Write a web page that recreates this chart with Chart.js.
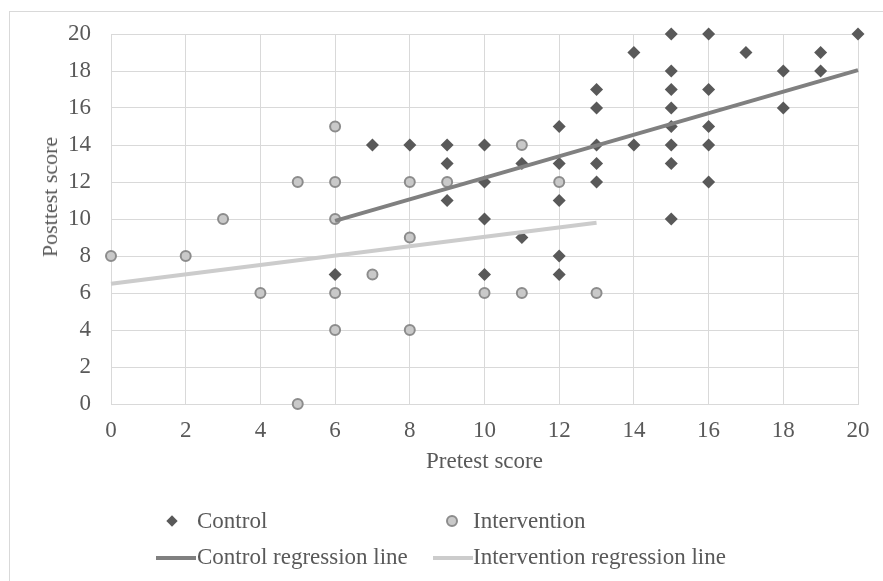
<!DOCTYPE html>
<html>
<head>
<meta charset="utf-8">
<script src="https://cdn.jsdelivr.net/npm/chart.js@4.4.1/dist/chart.umd.min.js"></script>
<style>
  html, body { margin: 0; padding: 0; background: #fff; }
  #wrap { position: relative; width: 883px; height: 581px; overflow: hidden; }
  #frame { position: absolute; left: 9px; top: 11px; width: 900px; height: 600px;
           border-left: 1px solid #d9d9d9; border-top: 1px solid #d9d9d9; }
  #chart { position: absolute; left: 0; top: 0; }
  .item { position: absolute; font-family: "Liberation Serif", "Times New Roman", serif;
          font-size: 23px; color: #595959; line-height: 26px; white-space: nowrap; }
  .ytitle { position: absolute; left: 50px; top: 197px; font-family: "Liberation Serif", "Times New Roman", serif;
            font-size: 22px; color: #595959; line-height: 26px; white-space: nowrap;
            transform: translate(-50%, -50%) rotate(-90deg); }
  .diamond { position: absolute; width: 8px; height: 8px; background: #595959; transform: rotate(45deg); }
  .dot { position: absolute; width: 8px; height: 8px; border-radius: 50%; background: #c9c9c9; border: 2px solid #8c8c8c; }
  .bar { position: absolute; height: 4px; }
</style>
</head>
<body>
<div id="wrap">
  <div id="frame"></div>
  <canvas id="chart" width="883" height="581"></canvas>
  <div class="ytitle">Posttest score</div>

  <div class="diamond" style="left:168px; top:517px;"></div>
  <div class="item" style="left:197px; top:508px;">Control</div>
  <div class="dot" style="left:446px; top:515px;"></div>
  <div class="item" style="left:473px; top:508px;">Intervention</div>

  <div class="bar" style="left:156px; top:556px; width:40px; background:#808080;"></div>
  <div class="item" style="left:197px; top:544px;">Control regression line</div>
  <div class="bar" style="left:433px; top:556px; width:40px; background:#cccccc;"></div>
  <div class="item" style="left:473px; top:544px;">Intervention regression line</div>
</div>
<script>
document.addEventListener("DOMContentLoaded", function () {
    // pretest / posttest pairs
    const controlX = [6, 7, 8, 9, 9, 9, 10, 10, 10, 10, 11, 11, 12, 12, 12, 12, 12,
        13, 13, 13, 13, 13, 14, 14, 15, 15, 15, 15, 15, 15, 15, 15,
        16, 16, 16, 16, 16, 17, 18, 18, 19, 19, 20];
    const controlY = [7, 14, 14, 14, 13, 11, 14, 12, 10, 7, 13, 9, 15, 13, 11, 8, 7,
        17, 16, 14, 13, 12, 19, 14, 20, 18, 17, 16, 15, 14, 13, 10,
        20, 17, 15, 14, 12, 19, 18, 16, 19, 18, 20];

    const interventionX = [0, 2, 3, 4, 5, 5, 6, 6, 6, 6, 6, 7, 8, 8, 8, 9, 10, 11, 11, 12, 13];
    const interventionY = [8, 8, 10, 6, 12, 0, 15, 12, 10, 6, 4, 7, 12, 9, 4, 12, 6, 14, 6, 12, 6];

    // regression line end points
    const controlLineX = [6, 20];
    const controlLineY = [9.9, 18.05];
    const interventionLineX = [0, 13];
    const interventionLineY = [6.5, 9.8];

    const xTicks = [0, 2, 4, 6, 8, 10, 12, 14, 16, 18, 20];
    const yTicks = [0, 2, 4, 6, 8, 10, 12, 14, 16, 18, 20];

    const toPoints = (xs, ys) => xs.map((x, i) => ({ x: x, y: ys[i] }));

    const textColor = "#595959";
    const gridColor = "#d9d9d9";
    const font = { family: "'Liberation Serif', 'Times New Roman', serif", size: 23 };

    new Chart(document.getElementById("chart").getContext("2d"), {
        type: "scatter",
        data: {
            datasets: [
                {
                    label: "Control regression line",
                    data: toPoints(controlLineX, controlLineY),
                    showLine: true,
                    borderColor: "#808080",
                    borderWidth: 4,
                    pointRadius: 0,
                    clip: false,
                    order: 0
                },
                {
                    label: "Intervention regression line",
                    data: toPoints(interventionLineX, interventionLineY),
                    showLine: true,
                    borderColor: "#cccccc",
                    borderWidth: 4,
                    pointRadius: 0,
                    clip: false,
                    order: 0
                },
                {
                    label: "Control",
                    data: toPoints(controlX, controlY),
                    pointStyle: "rectRot",
                    pointRadius: 6.5,
                    backgroundColor: "#595959",
                    borderColor: "#595959",
                    borderWidth: 0,
                    clip: false,
                    order: 1
                },
                {
                    label: "Intervention",
                    data: toPoints(interventionX, interventionY),
                    pointStyle: "circle",
                    pointRadius: 5,
                    backgroundColor: "#c9c9c9",
                    borderColor: "#8c8c8c",
                    borderWidth: 2,
                    clip: false,
                    order: 1
                }
            ]
        },
        options: {
            responsive: false,
            animation: false,
            events: [],
            layout: { padding: { left: 10, top: 34, right: 25, bottom: 105 } },
            plugins: { legend: { display: false }, tooltip: { enabled: false } },
            scales: {
                x: {
                    type: "linear",
                    min: 0, max: 20,
                    afterBuildTicks: s => { s.ticks = xTicks.map(v => ({ value: v })); },
                    afterFit: s => { s.height = 72; },
                    grid: { color: gridColor, drawTicks: false },
                    border: { color: gridColor },
                    ticks: { color: textColor, font: font, padding: 13 },
                    title: { display: true, text: "Pretest score", color: textColor, font: font, padding: { top: 0, bottom: 0 } }
                },
                y: {
                    type: "linear",
                    min: 0, max: 20,
                    afterBuildTicks: s => { s.ticks = yTicks.map(v => ({ value: v })); },
                    afterFit: s => { s.width = 101; },
                    grid: { color: gridColor, drawTicks: false },
                    border: { color: gridColor },
                    ticks: { color: textColor, font: font, padding: 20 },
                    title: { display: false }
                }
            }
        }
    });
});
</script>
</body>
</html>
